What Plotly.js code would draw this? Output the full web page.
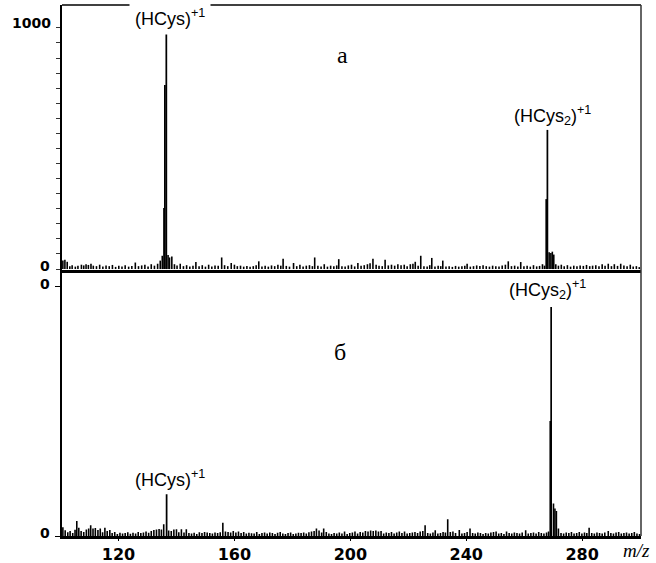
<!DOCTYPE html>
<html>
<head>
<meta charset="utf-8">
<script src="https://cdn.plot.ly/plotly-3.0.1.min.js"></script>
<style>html,body{margin:0;padding:0;background:#fff;}</style>
</head>
<body>
<div id="chart" style="width:656px;height:563px;"></div>
<script>
// ---- Panel "а" (top): main peaks ----
const topPeakMz  = [135.7, 136.0, 136.5, 267.6, 268.0];
const topPeakInt = [253, 763, 978, 290, 577];

// ---- Panel "а" (top): background lines ----
const topNoiseMz = [
 100.8,101.5,102.3,103.2,104.0,105.1,106.0,107.2,108.0,108.8,109.6,110.5,111.3,112.4,113.5,114.6,115.7,116.8,117.9,119.0,
 120.1,121.2,122.3,123.5,124.6,125.8,126.9,128.0,129.1,130.2,131.3,132.4,133.5,134.4,135.1,137.1,137.6,138.4,139.3,140.2,
 141.3,142.4,143.5,144.6,145.7,146.7,147.8,148.9,150.0,151.1,152.2,153.3,154.4,155.6,156.6,157.7,158.9,160.0,161.0,162.1,
 163.2,164.3,165.4,166.5,167.5,168.4,169.5,170.6,171.7,172.8,173.9,175.0,176.0,176.8,177.9,179.0,180.4,181.5,182.6,183.7,
 184.8,185.9,186.9,187.7,188.8,189.9,191.0,192.1,193.2,194.3,195.3,196.0,197.1,198.2,199.3,200.4,201.5,202.6,203.7,204.8,
 205.9,206.8,207.8,208.9,209.9,211.0,212.0,213.1,214.2,215.3,216.4,217.5,218.6,219.6,220.7,221.6,222.4,223.4,224.3,225.4,
 226.5,227.4,228.1,229.2,230.3,231.2,231.9,233.0,234.1,235.2,236.3,237.4,238.5,239.5,240.3,241.4,242.5,243.6,244.7,245.8,
 246.9,248.0,249.1,250.2,251.3,252.4,253.5,254.5,255.6,256.7,257.8,258.8,259.9,261.0,262.1,263.2,264.3,265.3,266.3,267.0,
 268.6,269.2,269.7,270.2,270.9,271.8,272.8,273.8,274.9,276.0,277.1,278.2,279.3,280.4,281.5,282.6,283.6,284.7,285.8,286.9,
 287.9,289.0,290.1,291.1,292.2,293.3,294.4,295.5,296.6,297.6,298.7,299.7
];
const topNoiseInt = [
 35,39,30,12,16,10,14,18,15,20,17,22,14,12,18,10,15,12,17,9,
 14,11,16,10,13,27,12,15,18,10,20,14,22,35,55,58,48,52,20,15,
 22,12,16,10,14,29,12,16,10,18,11,15,14,48,16,12,25,18,12,14,
 10,13,9,12,16,32,11,14,10,15,12,18,14,43,13,10,25,12,18,10,
 14,16,12,48,14,11,20,10,14,12,15,41,12,10,15,18,11,25,14,16,
 20,24,43,18,14,12,39,15,18,14,20,16,18,12,20,22,30,14,55,12,
 10,16,46,10,14,12,35,10,12,9,13,10,12,14,22,10,12,15,13,16,
 12,10,14,12,10,15,18,32,12,14,10,29,12,14,10,16,11,13,20,14,
 70,67,72,60,20,14,18,12,16,10,14,12,15,13,17,12,14,16,12,20,
 14,22,12,20,13,22,15,12,18,10,12,8
];

// ---- Panel "б" (bottom): main peaks ----
const botPeakMz  = [136.6, 269.0, 269.3];
const botPeakInt = [16.7, 46, 91.6];

// ---- Panel "б" (bottom): background lines ----
const botNoiseMz = [
 100.8,101.6,102.5,103.3,104.2,105.0,105.6,106.3,107.1,108.0,108.9,109.7,110.4,111.2,112.0,112.9,113.7,114.5,115.3,116.1,
 117.0,117.8,118.7,119.6,120.5,121.4,122.3,123.2,124.1,125.0,125.9,126.8,127.7,128.6,129.5,130.4,131.3,132.2,133.1,134.0,
 134.8,135.6,137.3,138.2,139.1,140.0,140.8,141.7,142.6,143.4,144.3,145.2,146.1,147.0,147.9,148.8,149.7,150.6,151.5,152.4,
 153.3,154.2,155.1,156.0,156.9,157.8,158.7,159.6,160.5,161.4,162.3,163.2,164.1,165.0,165.9,166.8,167.7,168.6,169.5,170.4,
 171.3,172.2,173.1,174.0,174.9,175.8,176.7,177.6,178.5,179.4,180.3,181.2,182.1,183.0,183.9,184.8,185.7,186.6,187.5,188.3,
 189.2,190.1,190.8,191.7,192.6,193.5,194.4,195.3,196.2,197.1,198.0,198.9,199.8,200.7,201.6,202.5,203.4,204.3,205.2,206.1,
 207.0,207.9,208.8,209.7,210.6,211.5,212.4,213.3,214.2,215.1,216.0,216.9,217.8,218.7,219.6,220.5,221.4,222.3,223.2,224.1,
 225.0,225.8,226.7,227.6,228.5,229.3,230.2,231.1,232.0,232.8,233.6,234.5,235.4,236.3,237.6,238.5,239.4,240.3,241.3,242.2,
 243.1,244.0,244.9,245.8,246.7,247.6,248.5,249.4,250.3,251.2,252.1,253.0,253.9,254.8,255.7,256.6,257.5,258.4,259.3,260.5,
 261.4,262.3,263.2,264.1,265.0,265.9,266.8,267.7,268.4,270.1,270.6,271.1,271.8,272.7,273.6,274.5,275.4,276.3,277.2,278.1,
 279.0,279.9,280.8,281.6,282.4,283.3,284.2,285.1,286.0,286.9,287.8,289.0,289.9,290.8,291.7,292.6,293.5,294.4,295.3,296.2,
 297.1,298.0,298.9,299.8
];
const botNoiseInt = [
 3.5,2.3,1.5,2.0,1.2,2.5,6.0,3.3,2.0,1.6,2.6,3.0,4.3,3.0,3.2,2.4,3.0,1.5,3.3,2.0,
 2.4,1.2,1.6,0.8,1.3,1.0,1.2,1.5,0.9,1.3,1.0,1.6,1.2,1.4,1.8,1.3,2.0,2.4,2.6,2.8,
 2.6,4.7,2.2,2.0,2.6,2.7,1.5,2.7,1.4,2.7,1.2,1.0,1.3,0.8,1.5,1.2,1.6,1.4,1.2,1.0,
 1.4,1.2,1.5,5.3,1.8,1.6,1.4,2.0,1.4,1.8,1.2,1.6,1.0,1.3,1.1,1.0,1.6,0.8,1.2,1.4,
 1.0,1.4,1.2,0.8,1.3,1.6,1.0,0.8,1.2,1.4,0.8,1.0,1.3,1.2,1.4,1.0,1.5,1.8,2.0,3.0,
 2.2,1.4,3.0,1.6,1.0,0.8,1.2,1.0,1.4,1.0,1.8,0.8,1.2,1.4,1.8,1.0,1.6,1.4,2.0,1.8,
 2.2,2.0,2.2,1.8,2.0,1.0,1.4,1.2,1.6,1.0,1.4,1.8,1.2,1.8,1.0,1.2,1.4,1.6,1.2,1.8,
 2.0,4.3,1.2,1.0,1.4,2.3,1.0,1.2,1.6,1.4,6.7,1.6,1.8,1.2,2.4,1.0,1.2,1.6,3.0,1.2,
 1.0,1.4,1.2,0.8,1.2,1.0,1.4,1.6,1.8,1.0,1.2,0.8,1.8,1.2,1.0,1.4,1.2,1.0,1.4,2.3,
 1.0,1.2,1.4,1.0,1.6,1.2,1.0,1.4,1.8,13,11,10,3.0,1.2,1.0,1.4,1.2,1.6,1.0,1.2,
 1.6,1.0,1.4,1.2,3.3,1.2,1.0,1.4,1.2,1.0,1.4,2.0,1.2,1.0,1.4,1.6,1.0,1.2,1.4,1.0,
 1.2,1.6,1.0,0.8
];

// ---- Axis tick labels ----
const xTickVals = [120, 160, 200, 240, 280];
const xTickText = ['120', '160', '200', '240', '280'];

const black = '#000';
function sticks(x, y, xa, ya, w) {
  return {type: 'bar', x: x, y: y, xaxis: xa, yaxis: ya, width: w,
          marker: {color: black, line: {width: 0}}, hoverinfo: 'skip', showlegend: false};
}

const data = [
  sticks(topNoiseMz, topNoiseInt, 'x2', 'y2', 0.55),
  sticks(topPeakMz, topPeakInt, 'x2', 'y2', 0.6),
  sticks(botNoiseMz, botNoiseInt, 'x', 'y', 0.55),
  sticks(botPeakMz, botPeakInt, 'x', 'y', 0.6)
];

const topMinor = [];
for (let v = 0; v <= 1000; v += 62.5) topMinor.push(v);

const splitFrac = 266 / 531;
const lblFont = {family: 'Liberation Sans, Arial, sans-serif', size: 18, color: black};
const tickLblFont = {family: 'DejaVu Sans, sans-serif', size: 14, color: black, weight: 'bold'};

const layout = {
  width: 656, height: 563,
  margin: {l: 62, r: 15, t: 5, b: 27, pad: 0},
  paper_bgcolor: '#fff', plot_bgcolor: '#fff',
  barmode: 'overlay',
  showlegend: false,
  xaxis: {
    domain: [0, 1], anchor: 'y', range: [100.5, 300.3],
    tickvals: xTickVals, ticktext: xTickText,
    ticks: 'outside', ticklen: 2, tickcolor: black,
    tickfont: {family: 'DejaVu Sans, sans-serif', size: 16, color: black, weight: 'bold'},
    showline: true, linewidth: 2.5, linecolor: black,
    showgrid: false, zeroline: false
  },
  xaxis2: {
    domain: [0, 1], anchor: 'y2', range: [100.5, 300.3], matches: 'x',
    showticklabels: false, ticks: '',
    showline: true, linewidth: 2.5, linecolor: black,
    showgrid: false, zeroline: false
  },
  yaxis: {
    domain: [0, splitFrac], anchor: 'x', range: [0, 106.4],
    tickvals: [0, 100], showticklabels: false,
    ticks: 'outside', ticklen: 5, tickcolor: black,
    showline: true, linewidth: 2.5, linecolor: black,
    showgrid: false, zeroline: false
  },
  yaxis2: {
    domain: [splitFrac, 1], anchor: 'x2', range: [-4, 1095],
    tickvals: topMinor, showticklabels: false,
    ticks: 'outside', ticklen: 4, tickcolor: '#333',
    showline: true, linewidth: 2.5, linecolor: black,
    showgrid: false, zeroline: false
  },
  shapes: [
    {type: 'line', xref: 'paper', yref: 'paper', x0: 0, x1: 1, y0: 1, y1: 1,
     line: {color: black, width: 1.5}},
    {type: 'line', xref: 'paper', yref: 'paper', x0: 1, x1: 1, y0: 0, y1: 1,
     line: {color: '#333', width: 1.5}}
  ],
  annotations: [
    // y-axis labels
    {xref: 'paper', yref: 'y2', x: -0.015, y: 1021, text: '1000', showarrow: false,
     xanchor: 'right', yanchor: 'middle', font: tickLblFont},
    {xref: 'paper', yref: 'y2', x: -0.017, y: 12, text: '0', showarrow: false,
     xanchor: 'right', yanchor: 'middle', font: tickLblFont},
    {xref: 'paper', yref: 'y', x: -0.017, y: 101, text: '0', showarrow: false,
     xanchor: 'right', yanchor: 'middle', font: tickLblFont},
    {xref: 'paper', yref: 'y', x: -0.017, y: 1.2, text: '0', showarrow: false,
     xanchor: 'right', yanchor: 'middle', font: tickLblFont},
    // peak labels
    {xref: 'paper', yref: 'paper', x: 0.1865, y: 0.977, text: '(HCys)<sup>+1</sup>',
     showarrow: false, xanchor: 'center', yanchor: 'middle', bgcolor: '#fff', borderpad: 5, font: lblFont},
    {xref: 'paper', yref: 'paper', x: 0.848, y: 0.791, text: '(HCys<sub>2</sub>)<sup>+1</sup>',
     showarrow: false, xanchor: 'center', yanchor: 'middle', font: lblFont},
    {xref: 'paper', yref: 'paper', x: 0.839, y: 0.465, text: '(HCys<sub>2</sub>)<sup>+1</sup>',
     showarrow: false, xanchor: 'center', yanchor: 'middle', font: lblFont},
    {xref: 'paper', yref: 'paper', x: 0.1865, y: 0.109, text: '(HCys)<sup>+1</sup>',
     showarrow: false, xanchor: 'center', yanchor: 'middle', font: lblFont},
    // panel letters
    {xref: 'paper', yref: 'paper', x: 0.4853, y: 0.906, text: 'а', showarrow: false,
     xanchor: 'center', yanchor: 'middle',
     font: {family: 'Liberation Serif, Times New Roman, serif', size: 24, color: black}},
    {xref: 'paper', yref: 'paper', x: 0.480, y: 0.3465, text: 'б', showarrow: false,
     xanchor: 'center', yanchor: 'middle',
     font: {family: 'Liberation Serif, Times New Roman, serif', size: 24, color: black}},
    // axis title
    {xref: 'paper', yref: 'paper', x: 0.993, y: -0.028, text: '<i>m/z</i>', showarrow: false,
     xanchor: 'center', yanchor: 'middle',
     font: {family: 'Liberation Serif, Times New Roman, serif', size: 19, color: black}}
  ]
};

Plotly.newPlot('chart', data, layout, {staticPlot: true, displayModeBar: false});
</script>
</body>
</html>
